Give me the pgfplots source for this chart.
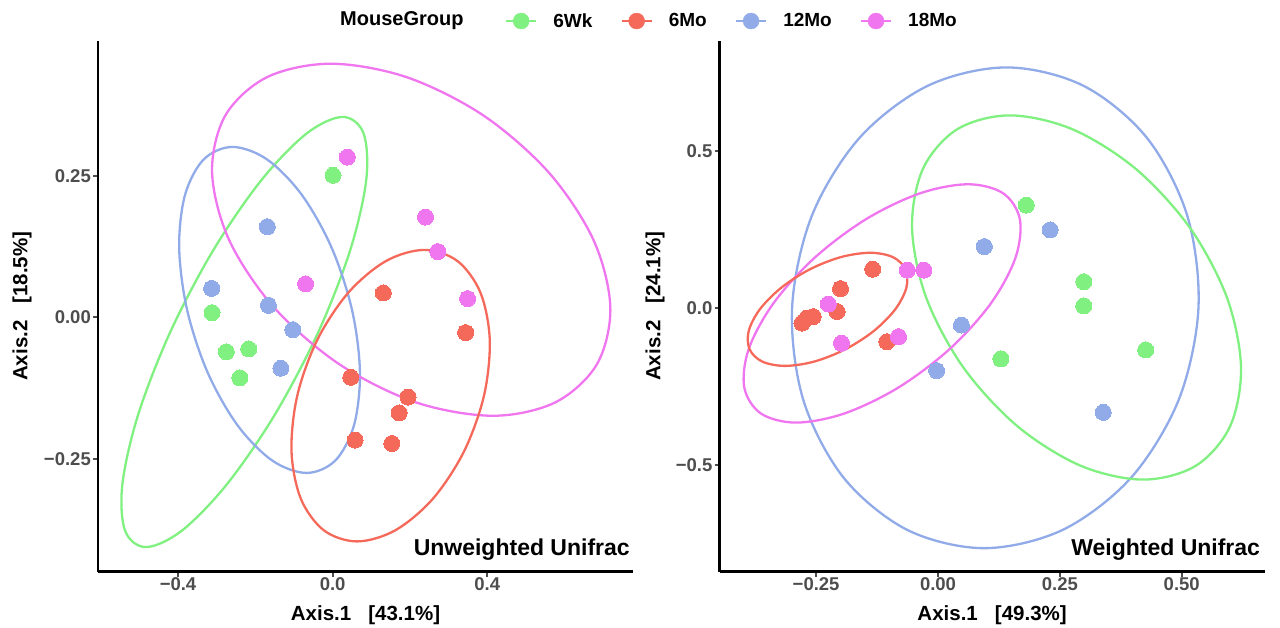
\documentclass[border=0pt]{standalone}
\usepackage{fontspec}
\setmainfont{Liberation Sans}
\usepackage{pgfplots}
\pgfplotsset{compat=1.18}
\definecolor{cwk}{RGB}{128,240,128}
\definecolor{cmo}{RGB}{245,105,90}
\definecolor{cmtw}{RGB}{145,170,232}
\definecolor{cmei}{RGB}{240,118,240}
\definecolor{gtick}{RGB}{77,77,77}
\newcommand{\tickfont}{\fontsize{18.5bp}{20bp}\selectfont\bfseries}
\newcommand{\labfont}{\fontsize{20.5bp}{22bp}\selectfont\bfseries}
\pgfplotsset{
  pcoa/.style={
    scale only axis, anchor=south west,
    axis x line*=bottom, axis y line*=left,
    axis line style={line width=2.4bp, black, -},
    tick align=outside, major tick length=5bp,
    tick style={line width=1.8bp, gtick},
    tick label style={font=\tickfont, text=gtick},
    xticklabel style={inner sep=1bp},
    yticklabel style={inner sep=2bp},
    label style={font=\labfont},
  },
  pt/.style={only marks, mark=*, mark size=8bp, color=#1, mark options={draw=#1, fill=#1, line width=0pt}},
  ell/.style={color=#1, line width=2.3bp, no marks, smooth cycle, tension=0.55},
  lg/.style={legend image code/.code={\draw[#1, line width=2.4bp] (0bp,0bp) -- (30bp,0bp); \fill[#1] (15bp,0bp) circle (8bp);}},
}
\begin{document}
\begin{tikzpicture}[x=1bp,y=1bp]
\useasboundingbox (0,0) rectangle (1280,628);
% ---------------- Left panel: Unweighted Unifrac ----------------
\begin{axis}[pcoa,
  at={(98bp,56.3bp)}, width=535bp, height=531bp,
  xmin=-0.607, xmax=0.777, ymin=-0.4495, ymax=0.4887,
  xtick={-0.4,0,0.4}, xticklabels={−0.4,0.0,0.4},
  ytick={-0.25,0,0.25}, yticklabels={−0.25,0.00,0.25},
  xlabel={Axis.1\ \ \ [43.1\%]},
  xlabel style={at={(axis description cs:0.5,-0.0923)}, anchor=base},
  ylabel={Axis.2\ \ \ [18.5\%]},
  ylabel style={at={(axis description cs:-0.142,0.5)}, anchor=center},
  legend columns=-1,
  legend style={draw=none, fill=none, inner sep=0pt, outer sep=0pt,
    at={(axis description cs:0.7607,1.037)}, anchor=west,
    font=\fontsize{19bp}{21bp}\selectfont\bfseries,
    nodes={inner sep=0pt},
    /tikz/every odd column/.append style={column sep=16bp},
    /tikz/every even column/.append style={column sep=28bp}},
]
\addplot[pt=cwk, lg=cwk] coordinates {(0.001,0.251) (-0.312,0.008) (-0.275,-0.061) (-0.217,-0.056) (-0.240,-0.107)};
\addlegendentry{6Wk}
\addplot[pt=cmo, lg=cmo] coordinates {(0.131,0.043) (0.344,-0.027) (0.047,-0.106) (0.195,-0.141) (0.172,-0.169) (0.058,-0.217) (0.153,-0.223)};
\addlegendentry{6Mo}
\addplot[pt=cmtw, lg=cmtw] coordinates {(-0.169,0.160) (-0.313,0.051) (-0.166,0.021) (-0.103,-0.022) (-0.134,-0.090)};
\addlegendentry{12Mo}
\addplot[pt=cmei, lg=cmei] coordinates {(0.038,0.283) (0.240,0.177) (0.272,0.116) (-0.070,0.059) (0.349,0.033)};
\addlegendentry{18Mo}
% ellipses
\addplot[ell=cwk, forget plot] coordinates {(0.026,0.354) (0.0799,0.3251) (0.0869,0.2427) (0.0458,0.1194) (-0.037,-0.026) (-0.149,-0.1714) (-0.2731,-0.2947) (-0.3903,-0.3771) (-0.483,-0.406) (-0.5369,-0.3771) (-0.5439,-0.2947) (-0.5028,-0.1714) (-0.42,-0.026) (-0.308,0.1194) (-0.1839,0.2427) (-0.0667,0.3251)};
\addplot[ell=cmtw, forget plot] coordinates {(-0.259,0.301) (-0.1701,0.2791) (-0.0801,0.2166) (-0.0028,0.1232) (0.0501,0.013) (0.0706,-0.0972) (0.0553,-0.1906) (0.0069,-0.2531) (-0.0674,-0.275) (-0.1563,-0.2531) (-0.2463,-0.1906) (-0.3236,-0.0972) (-0.3765,0.013) (-0.397,0.1232) (-0.3817,0.2166) (-0.3333,0.2791)};
\addplot[ell=cmei, forget plot] coordinates {(-0.005,0.448) (0.1912,0.4243) (0.3893,0.3569) (0.5589,0.256) (0.6745,0.137) (0.7183,0.018) (0.6837,-0.0829) (0.576,-0.1503) (0.4146,-0.174) (0.2152,-0.1503) (0.0171,-0.0829) (-0.1525,0.018) (-0.2681,0.137) (-0.3119,0.256) (-0.2773,0.3569) (-0.1696,0.4243)};
\addplot[ell=cmo, forget plot] coordinates {(0.237,0.119) (0.3228,0.0994) (0.3823,0.0436) (0.4064,-0.04) (0.3915,-0.1385) (0.3398,-0.237) (0.2593,-0.3206) (0.162,-0.3764) (0.063,-0.396) (-0.0228,-0.3764) (-0.0823,-0.3206) (-0.1064,-0.237) (-0.0915,-0.1385) (-0.0398,-0.04) (0.0407,0.0436) (0.138,0.0994)};
\node[anchor=base east, inner sep=0pt, font=\fontsize{23bp}{25bp}\selectfont\bfseries] at (axis cs:0.769,-0.4217) {Unweighted Unifrac};
\end{axis}
\node[anchor=west, inner sep=0pt, font=\fontsize{20bp}{22bp}\selectfont\bfseries] at (340,607) {MouseGroup};
% ---------------- Right panel: Weighted Unifrac ----------------
\begin{axis}[pcoa,
  at={(719.6bp,56.3bp)}, width=545bp, height=531bp,
  xmin=-0.448, xmax=0.670, ymin=-0.8404, ymax=0.8506,
  xtick={-0.25,0,0.25,0.5}, xticklabels={−0.25,0.00,0.25,0.50},
  ytick={-0.5,0,0.5}, yticklabels={−0.5,0.0,0.5},
  xlabel={Axis.1\ \ \ [49.3\%]},
  xlabel style={at={(axis description cs:0.5,-0.0923)}, anchor=base},
  ylabel={Axis.2\ \ \ [24.1\%]},
  ylabel style={at={(axis description cs:-0.1185,0.5)}, anchor=center},
]
\addplot[pt=cwk] coordinates {(0.181,0.327) (0.299,0.083) (0.299,0.006) (0.129,-0.163) (0.426,-0.134)};
\addplot[pt=cmo] coordinates {(-0.134,0.123) (-0.200,0.061) (-0.207,-0.012) (-0.256,-0.028) (-0.269,-0.033) (-0.279,-0.049) (-0.105,-0.108)};
\addplot[pt=cmtw] coordinates {(0.095,0.195) (0.230,0.248) (0.048,-0.055) (-0.003,-0.200) (0.339,-0.333)};
\addplot[pt=cmei] coordinates {(-0.063,0.120) (-0.029,0.120) (-0.225,0.012) (-0.198,-0.113) (-0.081,-0.092)};
\addplot[ell=cmtw] coordinates {(0.1405,0.7655) (0.2982,0.7072) (0.4285,0.5413) (0.5114,0.2930) (0.5343,0) (0.4938,-0.2930) (0.3959,-0.5413) (0.2558,-0.7072) (0.0945,-0.7655) (-0.0632,-0.7072) (-0.1935,-0.5413) (-0.2764,-0.2930) (-0.2993,0) (-0.2588,0.2930) (-0.1609,0.5413) (-0.0208,0.7072)};
\addplot[ell=cwk] coordinates {(0.1472,0.6127) (0.2757,0.5686) (0.4054,0.4428) (0.5168,0.2547) (0.5927,0.0328) (0.6216,-0.1891) (0.5992,-0.3772) (0.5289,-0.5030) (0.4212,-0.5471) (0.2927,-0.5030) (0.1630,-0.3772) (0.0516,-0.1891) (-0.0243,0.0328) (-0.0532,0.2547) (-0.0308,0.4428) (0.0395,0.5686)};
\addplot[ell=cmei] coordinates {(0.0618,0.3934) (0.1338,0.3645) (0.1679,0.2822) (0.1589,0.1591) (0.1084,0.0139) (0.0239,-0.1313) (-0.0817,-0.2544) (-0.1924,-0.3367) (-0.2912,-0.3656) (-0.3632,-0.3367) (-0.3973,-0.2544) (-0.3883,-0.1313) (-0.3378,0.0139) (-0.2533,0.1591) (-0.1477,0.2822) (-0.0370,0.3645)};
\addplot[ell=cmo] coordinates {(-0.1393,0.1752) (-0.0927,0.1615) (-0.0667,0.1224) (-0.0649,0.0640) (-0.0877,-0.0049) (-0.1317,-0.0738) (-0.1901,-0.1322) (-0.2541,-0.1713) (-0.3139,-0.1850) (-0.3605,-0.1713) (-0.3865,-0.1322) (-0.3883,-0.0738) (-0.3655,-0.0049) (-0.3215,0.0640) (-0.2631,0.1224) (-0.1991,0.1615)};
\node[anchor=base east, inner sep=0pt, font=\fontsize{23bp}{25bp}\selectfont\bfseries] at (axis cs:0.661,-0.790) {Weighted Unifrac};
\end{axis}
\end{tikzpicture}
\end{document}
